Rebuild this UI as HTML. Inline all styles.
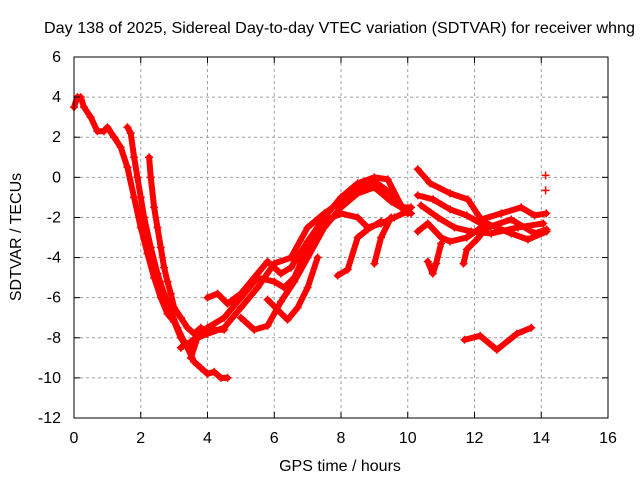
<!DOCTYPE html>
<html><head><meta charset="utf-8"><style>
html,body{margin:0;padding:0;background:#fff;}
svg{display:block;font-family:"Liberation Sans",sans-serif;}
</style></head><body>
<svg id="chart" width="640" height="480" xmlns="http://www.w3.org/2000/svg">
<rect width="640" height="480" fill="#fff"/>
<g id="grid"></g>
<g id="series"></g>
<rect x="74" y="57" width="534" height="361" fill="none" stroke="#000" stroke-width="1"/>
<g id="ticks"></g>
<text x="44" y="33" font-size="16" textLength="591" lengthAdjust="spacingAndGlyphs">Day 138 of 2025, Sidereal Day-to-day VTEC variation (SDTVAR) for receiver whng</text>
<text x="340" y="471" font-size="16" text-anchor="middle">GPS time / hours</text>
<text transform="translate(21,237) rotate(-90)" font-size="16" text-anchor="middle">SDTVAR / TECUs</text>
</svg>
<script>
const xTicks=[0,2,4,6,8,10,12,14,16];
const yTicks=[6,4,2,0,-2,-4,-6,-8,-10,-12];
const trackA=[[0,3.5],[0.1,4.0],[0.2,4.0],[0.3,3.5],[0.5,3.0],[0.7,2.3],[0.9,2.3],[1.0,2.5],[1.2,2.0],[1.4,1.5],[1.6,0.5],[1.8,-1.0],[2.0,-2.5],[2.2,-3.8],[2.4,-5.0],[2.6,-6.0],[2.8,-6.8],[3.0,-7.2],[3.2,-8.0],[3.4,-8.5],[3.6,-9.2],[3.8,-9.5],[4.0,-9.8],[4.2,-9.7],[4.4,-10.0],[4.6,-10.0]];
const trackB=[[1.6,2.5],[1.7,2.2],[1.8,1.0],[1.9,0],[2.0,-1.0],[2.1,-2.0],[2.3,-3.5],[2.5,-4.8],[2.7,-5.8],[2.9,-6.7],[3.1,-7.5],[3.3,-8.2],[3.5,-8.4],[3.7,-8.0],[3.9,-7.6],[4.2,-7.6],[4.5,-7.6]];
const trackC=[[2.25,1.0],[2.3,0],[2.4,-1.5],[2.5,-2.5],[2.6,-3.5],[2.7,-4.5],[2.8,-5.2],[2.9,-5.8],[3.0,-6.5],[3.2,-7.0],[3.4,-7.5],[3.6,-7.8],[3.8,-7.5]];
const trackD=[[3.5,-9.0],[3.7,-8.0],[4.0,-7.8],[4.5,-7.5],[5.0,-6.5],[5.5,-5.5],[6.0,-4.3],[6.5,-4.0],[7.0,-2.5],[7.5,-1.8],[8.0,-1.2],[8.5,-0.5],[9.0,-0.2],[9.5,-0.8],[10.0,-1.8]];
const trackE=[[4.0,-6.0],[4.3,-5.8],[4.6,-6.3],[5.0,-5.8],[5.5,-4.8],[5.8,-4.2],[6.2,-4.8],[6.5,-4.5],[7.0,-3.2],[7.5,-2.0],[8.0,-1.0],[8.5,-0.3],[9.0,0],[9.4,-0.1],[9.8,-1.4],[10.1,-1.8]];
const trackF=[[3.2,-8.5],[3.5,-8.2],[4.0,-7.5],[4.5,-7.0],[5.0,-6.0],[5.5,-5.0],[6.0,-5.2],[6.3,-5.5],[6.6,-5.0],[7.0,-3.5],[7.5,-2.2],[8.0,-1.8],[8.5,-2.0],[8.8,-2.5],[9.2,-2.3],[9.6,-2.0],[10.0,-1.7]];
const trackG=[[5.0,-7.0],[5.4,-7.6],[5.8,-7.4],[6.2,-6.2],[6.6,-5.2],[7.0,-4.0],[7.5,-2.5],[8.0,-1.5],[8.5,-0.8],[9.0,-0.5],[9.5,-1.2],[9.8,-1.5],[10.1,-1.5]];
const trackI=[[5.8,-6.1],[6.1,-6.6],[6.4,-7.1],[6.7,-6.5],[7.0,-5.5],[7.3,-4.0]];
const trackJ=[[7.9,-4.9],[8.2,-4.6],[8.5,-3.0],[8.8,-2.6],[9.2,-2.2]];
const trackK=[[9.0,-4.3],[9.2,-3.0],[9.5,-2.0]];
const trackL=[[10.3,0.4],[10.67,-0.3],[11.27,-0.8],[11.8,-1.1],[12.2,-2.1],[12.8,-1.8],[13.4,-1.5],[13.8,-1.9],[14.15,-1.8]];
const trackM=[[10.3,-0.9],[10.76,-1.1],[11.27,-1.6],[11.77,-1.9],[12.4,-2.5],[13.1,-2.1],[13.8,-2.8],[14.16,-2.6]];
const trackN=[[10.3,-2.7],[10.6,-2.3],[11.0,-3.0],[11.27,-3.2],[11.77,-3.0],[12.37,-2.3],[13.1,-2.8],[13.6,-3.1],[14.16,-2.7]];
const trackO=[[10.4,-1.4],[10.9,-2.0],[11.4,-2.5],[11.9,-2.7],[12.5,-2.8],[13.3,-2.5],[14.06,-2.3]];
const trackP=[[10.6,-4.2],[10.75,-4.8],[10.85,-4.3],[11.0,-3.3]];
const trackQ=[[11.67,-4.3],[11.77,-3.6],[12.07,-3.1],[12.37,-2.5]];
const trackR=[[11.7,-8.1],[12.17,-7.9],[12.67,-8.6],[13.27,-7.8],[13.7,-7.5]];
const trackS=[[14.13,0.1]];
const trackT=[[14.13,-0.65]];
const tracks=[trackA,trackB,trackC,trackD,trackE,trackF,trackG,trackI,trackJ,trackK,trackL,trackM,trackN,trackO,trackP,trackQ,trackR,trackS,trackT];

const NS="http://www.w3.org/2000/svg";
const X0=74,X1=608,Y0=57,Y1=418;
const xs=t=>X0+(t-0)/(16-0)*(X1-X0);
const ys=v=>Y0+(6-v)/(6-(-12))*(Y1-Y0);
function mk(tag,attrs,parent){const e=document.createElementNS(NS,tag);for(const k in attrs)e.setAttribute(k,attrs[k]);parent.appendChild(e);return e;}
const grid=document.getElementById('grid'),ticks=document.getElementById('ticks'),ser=document.getElementById('series');
xTicks.forEach(t=>{const x=xs(t);
 if(t>0&&t<16){const g=mk('line',{x1:x,x2:x,y1:Y0,y2:Y1,stroke:'#a0a0a0','stroke-dasharray':'3,3'},grid);
 
 }
 mk('line',{x1:x,x2:x,y1:Y1,y2:Y1-6,stroke:'#000'},ticks);
 mk('line',{x1:x,x2:x,y1:Y0,y2:Y0+6,stroke:'#000'},ticks);
 const l=mk('text',{x:x,y:443,'font-size':'16','text-anchor':'middle'},ticks);l.textContent=t;
 
 
});
yTicks.forEach(v=>{const y=ys(v);
 if(v<6&&v>-12){const g=mk('line',{x1:X0,x2:X1,y1:y,y2:y,stroke:'#a0a0a0','stroke-dasharray':'3,3'},grid);
 
 }
 mk('line',{x1:X0,x2:X0+6,y1:y,y2:y,stroke:'#000'},ticks);
 mk('line',{x1:X1,x2:X1-6,y1:y,y2:y,stroke:'#000'},ticks);
 const l=mk('text',{x:61,y:y+5,'font-size':'16','text-anchor':'end'},ticks);l.textContent=v;
 
 
});
tracks.forEach((tr,i)=>{
 const g=mk('g',{},ser);
 
 
 if(tr.length>1){mk('polyline',{points:tr.map(p=>xs(p[0])+','+ys(p[1])).join(' '),fill:'none',stroke:'#f00','stroke-width':'6','stroke-linejoin':'round','stroke-linecap':'round'},g);}
 tr.forEach(p=>{const x=xs(p[0]),y=ys(p[1]);
  mk('path',{d:`M${x-4},${y}H${x+4}M${x},${y-4}V${y+4}`,stroke:'#f00','stroke-width':'1.5'},g);});
});
</script>
</body></html>
